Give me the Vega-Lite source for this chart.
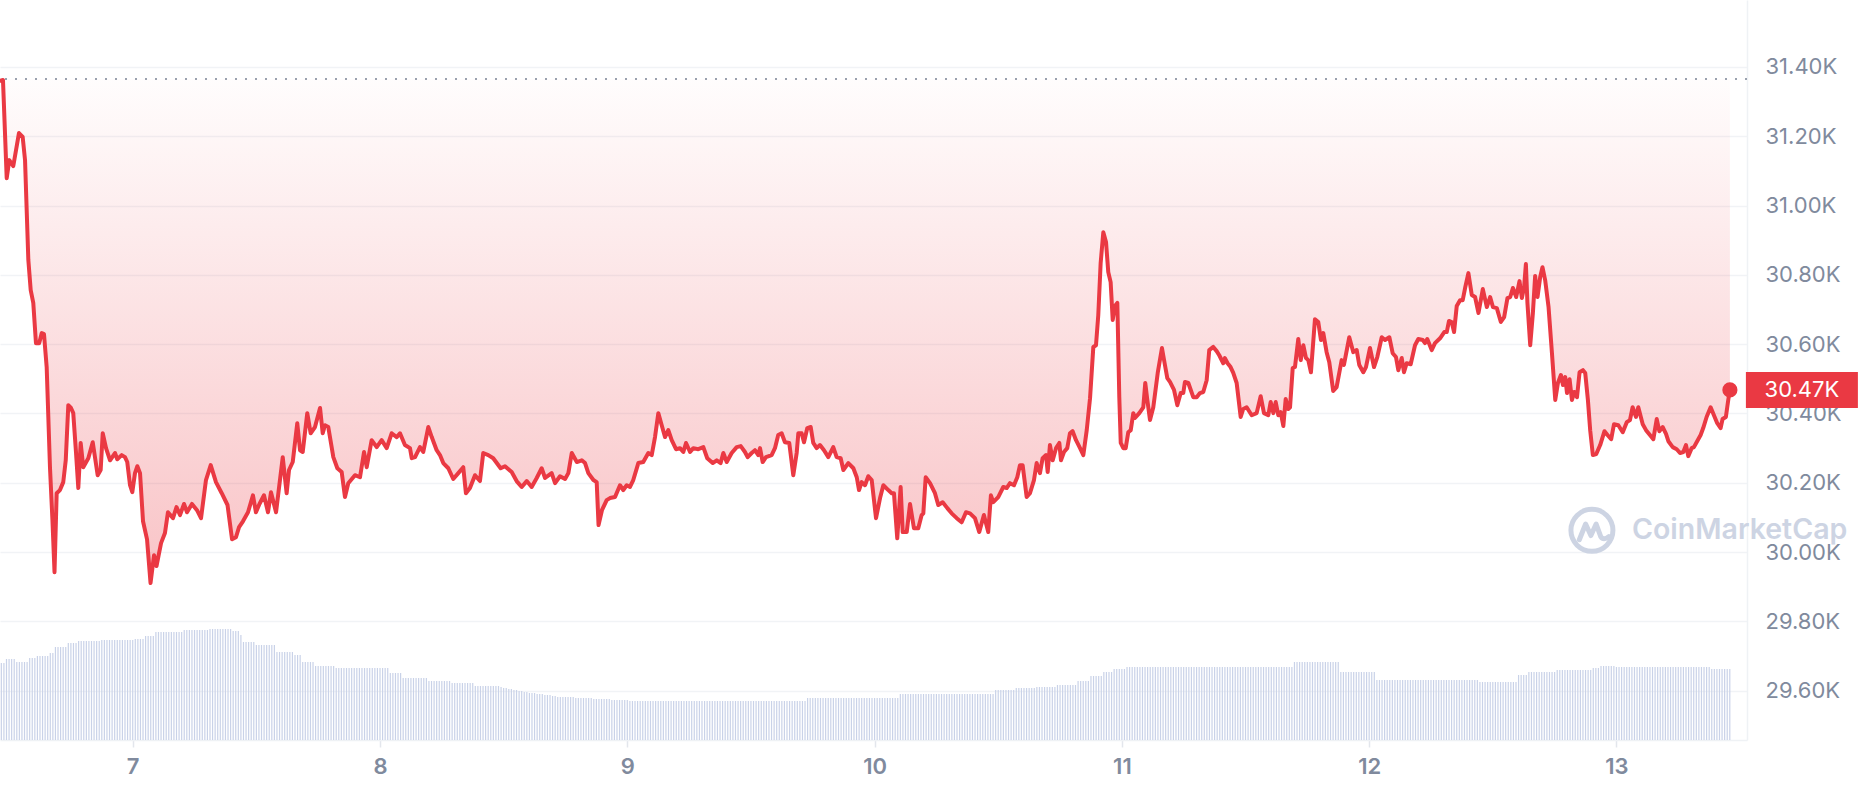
{
"$schema": "https://vega.github.io/schema/vega-lite/v6.json",
"width": 1747,
"height": 740,
"autosize": {"type": "none"},
"padding": {"left": 0, "top": 0, "right": 111, "bottom": 52},
"background": "#ffffff",
"config": {"view": {"stroke": null}, "font": "Inter"},
"datasets": {
"last": [{"t": 179.01, "p": 30468, "label": "30.47K"}],
"price": [
{"t":11.12,"p":31360},{"t":11.41,"p":31362},{"t":11.77,"p":31079},{"t":12.02,"p":31131},{"t":12.41,"p":31114},{"t":12.96,"p":31209},{"t":13.32,"p":31198},{"t":13.55,"p":31131},{"t":13.87,"p":30843},{"t":14.1,"p":30756},{"t":14.35,"p":30719},{"t":14.61,"p":30603},{"t":14.93,"p":30603},{"t":15.17,"p":30632},{"t":15.39,"p":30629},{"t":15.65,"p":30534},{"t":15.97,"p":30245},{"t":16.21,"p":30092},{"t":16.41,"p":29942},{"t":16.62,"p":30170},{"t":16.94,"p":30179},{"t":17.26,"p":30202},{"t":17.5,"p":30265},{"t":17.75,"p":30424},{"t":18.01,"p":30416},{"t":18.23,"p":30401},{"t":18.5,"p":30286},{"t":18.72,"p":30185},{"t":18.95,"p":30315},{"t":19.2,"p":30245},{"t":19.69,"p":30271},{"t":20.12,"p":30317},{"t":20.6,"p":30222},{"t":20.89,"p":30237},{"t":21.09,"p":30343},{"t":21.41,"p":30300},{"t":21.8,"p":30265},{"t":22.28,"p":30286},{"t":22.5,"p":30268},{"t":22.93,"p":30280},{"t":23.25,"p":30274},{"t":23.47,"p":30260},{"t":23.74,"p":30193},{"t":23.96,"p":30173},{"t":24.22,"p":30228},{"t":24.45,"p":30248},{"t":24.71,"p":30228},{"t":25.0,"p":30089},{"t":25.39,"p":30037},{"t":25.73,"p":29911},{"t":26.07,"p":29991},{"t":26.31,"p":29960},{"t":26.75,"p":30026},{"t":27.13,"p":30055},{"t":27.42,"p":30115},{"t":27.91,"p":30098},{"t":28.25,"p":30130},{"t":28.59,"p":30107},{"t":28.98,"p":30139},{"t":29.27,"p":30115},{"t":29.75,"p":30139},{"t":30.24,"p":30121},{"t":30.63,"p":30098},{"t":31.11,"p":30208},{"t":31.57,"p":30251},{"t":32.08,"p":30202},{"t":32.64,"p":30170},{"t":33.2,"p":30136},{"t":33.64,"p":30037},{"t":34.02,"p":30043},{"t":34.32,"p":30072},{"t":34.7,"p":30089},{"t":35.19,"p":30115},{"t":35.67,"p":30164},{"t":35.96,"p":30115},{"t":36.3,"p":30139},{"t":36.74,"p":30164},{"t":37.13,"p":30115},{"t":37.42,"p":30173},{"t":37.91,"p":30115},{"t":38.56,"p":30274},{"t":38.94,"p":30170},{"t":39.17,"p":30237},{"t":39.53,"p":30260},{"t":39.97,"p":30372},{"t":40.24,"p":30294},{"t":40.5,"p":30289},{"t":40.94,"p":30401},{"t":41.27,"p":30343},{"t":41.69,"p":30361},{"t":42.18,"p":30416},{"t":42.44,"p":30343},{"t":42.66,"p":30366},{"t":42.98,"p":30361},{"t":43.47,"p":30274},{"t":43.86,"p":30242},{"t":44.28,"p":30231},{"t":44.6,"p":30159},{"t":44.92,"p":30199},{"t":45.57,"p":30222},{"t":46.06,"p":30216},{"t":46.45,"p":30289},{"t":46.71,"p":30245},{"t":47.19,"p":30323},{"t":47.68,"p":30303},{"t":48.16,"p":30323},{"t":48.65,"p":30300},{"t":49.13,"p":30343},{"t":49.62,"p":30332},{"t":49.94,"p":30343},{"t":50.42,"p":30309},{"t":50.91,"p":30300},{"t":51.08,"p":30271},{"t":51.4,"p":30274},{"t":51.88,"p":30303},{"t":52.2,"p":30289},{"t":52.69,"p":30361},{"t":53.02,"p":30332},{"t":53.5,"p":30294},{"t":53.82,"p":30280},
{"t":54.14,"p":30257},{"t":54.63,"p":30242},{"t":55.11,"p":30211},{"t":55.6,"p":30228},{"t":56.08,"p":30245},{"t":56.34,"p":30170},{"t":56.73,"p":30185},{"t":57.22,"p":30222},{"t":57.7,"p":30205},{"t":58.02,"p":30286},{"t":58.51,"p":30280},{"t":58.99,"p":30271},{"t":59.71,"p":30242},{"t":60.13,"p":30248},{"t":60.78,"p":30231},{"t":61.26,"p":30205},{"t":61.75,"p":30188},{"t":62.24,"p":30205},{"t":62.72,"p":30188},{"t":63.21,"p":30214},{"t":63.69,"p":30242},{"t":64.02,"p":30214},{"t":64.66,"p":30228},{"t":64.99,"p":30199},{"t":65.47,"p":30219},{"t":65.96,"p":30211},{"t":66.28,"p":30228},{"t":66.61,"p":30286},{"t":67.1,"p":30260},{"t":67.58,"p":30265},{"t":67.9,"p":30257},{"t":68.22,"p":30228},{"t":68.71,"p":30208},{"t":69.03,"p":30202},{"t":69.21,"p":30078},{"t":69.54,"p":30121},{"t":70.0,"p":30150},{"t":70.32,"p":30156},{"t":70.81,"p":30159},{"t":71.29,"p":30193},{"t":71.61,"p":30179},{"t":71.94,"p":30193},{"t":72.26,"p":30188},{"t":72.58,"p":30208},{"t":73.07,"p":30257},{"t":73.55,"p":30260},{"t":74.04,"p":30286},{"t":74.37,"p":30280},{"t":74.69,"p":30332},{"t":75.01,"p":30401},{"t":75.34,"p":30366},{"t":75.66,"p":30332},{"t":75.98,"p":30352},{"t":76.31,"p":30323},{"t":76.73,"p":30297},{"t":77.12,"p":30300},{"t":77.44,"p":30289},{"t":77.7,"p":30315},{"t":78.09,"p":30289},{"t":78.41,"p":30300},{"t":78.89,"p":30297},{"t":79.38,"p":30303},{"t":79.76,"p":30271},{"t":80.29,"p":30257},{"t":80.68,"p":30265},{"t":81.06,"p":30257},{"t":81.32,"p":30286},{"t":81.65,"p":30260},{"t":82.13,"p":30286},{"t":82.62,"p":30303},{"t":83.01,"p":30306},{"t":83.42,"p":30289},{"t":83.68,"p":30274},{"t":84.07,"p":30286},{"t":84.39,"p":30294},{"t":84.71,"p":30280},{"t":84.88,"p":30300},{"t":85.14,"p":30260},{"t":85.46,"p":30274},{"t":86.01,"p":30280},{"t":86.33,"p":30300},{"t":86.65,"p":30338},{"t":86.98,"p":30343},{"t":87.3,"p":30317},{"t":87.72,"p":30315},{"t":88.11,"p":30222},{"t":88.44,"p":30286},{"t":88.6,"p":30343},{"t":88.92,"p":30343},{"t":89.15,"p":30317},{"t":89.47,"p":30358},{"t":89.8,"p":30361},{"t":90.05,"p":30315},{"t":90.38,"p":30300},{"t":90.7,"p":30309},{"t":91.09,"p":30294},{"t":91.51,"p":30274},{"t":91.99,"p":30303},{"t":92.32,"p":30274},{"t":92.71,"p":30271},{"t":92.97,"p":30237},{"t":93.45,"p":30257},{"t":93.94,"p":30242},{"t":94.27,"p":30216},{"t":94.49,"p":30179},{"t":94.75,"p":30202},{"t":95.07,"p":30193},{"t":95.39,"p":30219},
{"t":95.72,"p":30208},{"t":96.14,"p":30098},{"t":96.53,"p":30156},{"t":96.85,"p":30193},{"t":97.33,"p":30179},{"t":97.66,"p":30170},{"t":97.88,"p":30170},{"t":98.2,"p":30040},{"t":98.53,"p":30188},{"t":98.73,"p":30058},{"t":99.12,"p":30058},{"t":99.44,"p":30139},{"t":99.82,"p":30069},{"t":100.24,"p":30069},{"t":100.57,"p":30107},{"t":100.73,"p":30112},{"t":100.96,"p":30216},{"t":101.38,"p":30199},{"t":101.86,"p":30170},{"t":102.18,"p":30136},{"t":102.61,"p":30144},{"t":103.06,"p":30127},{"t":103.48,"p":30112},{"t":103.97,"p":30098},{"t":104.45,"p":30086},{"t":104.87,"p":30115},{"t":105.26,"p":30112},{"t":105.74,"p":30098},{"t":106.16,"p":30058},{"t":106.61,"p":30107},{"t":107.03,"p":30058},{"t":107.29,"p":30164},{"t":107.52,"p":30144},{"t":108.0,"p":30159},{"t":108.49,"p":30188},{"t":108.82,"p":30185},{"t":109.14,"p":30199},{"t":109.53,"p":30193},{"t":109.85,"p":30216},{"t":110.11,"p":30251},{"t":110.37,"p":30251},{"t":110.76,"p":30159},{"t":111.08,"p":30170},{"t":111.47,"p":30208},{"t":111.73,"p":30257},{"t":112.05,"p":30228},{"t":112.31,"p":30271},{"t":112.64,"p":30280},{"t":112.8,"p":30231},{"t":113.02,"p":30309},{"t":113.29,"p":30265},{"t":113.61,"p":30300},{"t":113.93,"p":30315},{"t":114.09,"p":30265},{"t":114.38,"p":30289},{"t":114.7,"p":30300},{"t":114.96,"p":30343},{"t":115.22,"p":30349},{"t":115.55,"p":30323},{"t":115.94,"p":30300},{"t":116.26,"p":30280},{"t":116.59,"p":30352},{"t":116.91,"p":30444},{"t":117.23,"p":30592},{"t":117.49,"p":30597},{"t":117.71,"p":30684},{"t":117.94,"p":30834},{"t":118.2,"p":30923},{"t":118.46,"p":30895},{"t":118.68,"p":30808},{"t":118.91,"p":30779},{"t":119.11,"p":30670},{"t":119.33,"p":30710},{"t":119.56,"p":30719},{"t":119.75,"p":30447},{"t":119.89,"p":30315},{"t":120.14,"p":30300},{"t":120.37,"p":30300},{"t":120.62,"p":30346},{"t":120.86,"p":30352},{"t":121.11,"p":30401},{"t":121.27,"p":30387},{"t":121.69,"p":30401},{"t":122.08,"p":30418},{"t":122.27,"p":30488},{"t":122.47,"p":30439},{"t":122.73,"p":30381},{"t":123.05,"p":30418},{"t":123.48,"p":30517},{"t":123.89,"p":30589},{"t":124.18,"p":30540},{"t":124.41,"p":30502},{"t":124.67,"p":30491},{"t":125.06,"p":30468},{"t":125.38,"p":30424},{"t":125.71,"p":30459},{"t":125.96,"p":30459},{"t":126.12,"p":30491},{"t":126.45,"p":30488},{"t":126.93,"p":30447},{"t":127.26,"p":30447},{"t":127.58,"p":30459},{"t":127.9,"p":30462},{"t":128.23,"p":30496},{"t":128.48,"p":30583},{"t":128.87,"p":30592},{"t":129.2,"p":30580},{"t":129.45,"p":30568},{"t":129.84,"p":30545},{"t":130.0,"p":30560},{"t":130.26,"p":30545},{"t":130.55,"p":30534},{"t":130.81,"p":30517},{"t":131.14,"p":30488},{"t":131.53,"p":30390},{"t":131.78,"p":30413},{"t":132.11,"p":30418},{"t":132.6,"p":30395},{"t":133.08,"p":30401},{"t":133.47,"p":30450},{"t":133.79,"p":30401},{"t":134.21,"p":30395},{"t":134.44,"p":30433},{"t":134.7,"p":30401},{"t":134.93,"p":30433},{"t":135.18,"p":30395},{"t":135.41,"p":30404},{"t":135.67,"p":30364},{"t":135.9,"p":30442},{"t":136.15,"p":30413},{"t":136.32,"p":30418},
{"t":136.58,"p":30531},{"t":136.8,"p":30534},{"t":137.12,"p":30615},{"t":137.36,"p":30554},{"t":137.61,"p":30597},{"t":137.87,"p":30560},{"t":138.09,"p":30554},{"t":138.35,"p":30519},{"t":138.74,"p":30672},{"t":139.06,"p":30664},{"t":139.32,"p":30612},{"t":139.55,"p":30632},{"t":139.87,"p":30577},{"t":140.13,"p":30548},{"t":140.51,"p":30465},{"t":140.84,"p":30476},{"t":141.33,"p":30554},{"t":141.55,"p":30540},{"t":142.07,"p":30620},{"t":142.46,"p":30577},{"t":142.79,"p":30583},{"t":143.04,"p":30540},{"t":143.43,"p":30519},{"t":143.69,"p":30534},{"t":144.08,"p":30589},{"t":144.47,"p":30534},{"t":144.79,"p":30563},{"t":145.22,"p":30620},{"t":145.54,"p":30612},{"t":145.96,"p":30620},{"t":146.28,"p":30574},{"t":146.6,"p":30563},{"t":146.83,"p":30525},{"t":147.16,"p":30560},{"t":147.38,"p":30519},{"t":147.64,"p":30545},{"t":148.03,"p":30542},{"t":148.45,"p":30597},{"t":148.77,"p":30615},{"t":149.2,"p":30612},{"t":149.42,"p":30603},{"t":149.64,"p":30615},{"t":150.07,"p":30583},{"t":150.39,"p":30603},{"t":150.88,"p":30617},{"t":151.29,"p":30635},{"t":151.53,"p":30635},{"t":151.75,"p":30667},{"t":152.01,"p":30664},{"t":152.24,"p":30635},{"t":152.5,"p":30710},{"t":152.82,"p":30727},{"t":153.08,"p":30727},{"t":153.31,"p":30762},{"t":153.63,"p":30805},{"t":153.96,"p":30742},{"t":154.28,"p":30736},{"t":154.61,"p":30690},{"t":155.03,"p":30759},{"t":155.42,"p":30707},{"t":155.74,"p":30736},{"t":156.01,"p":30707},{"t":156.39,"p":30704},{"t":156.78,"p":30664},{"t":157.1,"p":30678},{"t":157.42,"p":30733},{"t":157.69,"p":30736},{"t":157.95,"p":30762},{"t":158.27,"p":30736},{"t":158.59,"p":30782},{"t":158.82,"p":30733},{"t":159.04,"p":30765},{"t":159.21,"p":30831},{"t":159.36,"p":30719},{"t":159.63,"p":30597},{"t":159.89,"p":30690},{"t":160.11,"p":30797},{"t":160.34,"p":30736},{"t":160.6,"p":30794},{"t":160.82,"p":30822},{"t":161.08,"p":30785},{"t":161.41,"p":30707},{"t":161.74,"p":30574},{"t":162.06,"p":30439},{"t":162.32,"p":30488},{"t":162.61,"p":30511},{"t":162.81,"p":30482},{"t":163.03,"p":30505},{"t":163.2,"p":30459},{"t":163.45,"p":30499},{"t":163.68,"p":30439},{"t":163.91,"p":30462},{"t":164.17,"p":30447},{"t":164.42,"p":30519},{"t":164.75,"p":30525},{"t":164.97,"p":30517},{"t":165.23,"p":30439},{"t":165.45,"p":30352},{"t":165.71,"p":30280},{"t":166.04,"p":30283},{"t":166.42,"p":30309},{"t":166.84,"p":30349},{"t":167.13,"p":30338},{"t":167.49,"p":30326},{"t":167.76,"p":30369},{"t":168.18,"p":30366},{"t":168.61,"p":30346},{"t":169.0,"p":30375},{"t":169.31,"p":30381},{"t":169.57,"p":30418},{"t":169.89,"p":30390},{"t":170.12,"p":30418},{"t":170.55,"p":30369},{"t":170.87,"p":30352},{"t":171.25,"p":30338},{"t":171.58,"p":30326},{"t":171.91,"p":30384},{"t":172.16,"p":30349},{"t":172.49,"p":30361},{"t":172.81,"p":30341},{"t":173.04,"p":30320},{"t":173.46,"p":30303},{"t":173.85,"p":30297},{"t":174.17,"p":30286},{"t":174.49,"p":30289},{"t":174.75,"p":30309},{"t":174.97,"p":30277},{"t":175.3,"p":30300},{"t":175.52,"p":30303},{"t":175.78,"p":30317},{"t":176.17,"p":30338},{"t":176.42,"p":30358},{"t":176.75,"p":30390},{"t":177.14,"p":30418},{"t":177.46,"p":30395},{"t":177.78,"p":30372},{"t":178.11,"p":30358},{"t":178.3,"p":30384},{"t":178.62,"p":30390},{"t":178.85,"p":30439},{"t":179.01,"p":30468}
],
"volume": [
{"t":11.25,"v":7.7},{"t":11.5,"v":7.7},{"t":11.75,"v":8.1},{"t":12,"v":8.1},{"t":12.25,"v":8.1},{"t":12.5,"v":8.1},{"t":12.75,"v":7.8},{"t":13,"v":7.8},{"t":13.25,"v":7.8},{"t":13.5,"v":7.8},{"t":13.75,"v":7.8},{"t":14,"v":8.2},{"t":14.25,"v":8.2},{"t":14.5,"v":8.2},{"t":14.75,"v":8.4},{"t":15,"v":8.4},{"t":15.25,"v":8.4},{"t":15.5,"v":8.4},{"t":15.75,"v":8.4},{"t":16,"v":8.7},{"t":16.25,"v":8.7},{"t":16.5,"v":9.3},{"t":16.75,"v":9.3},{"t":17,"v":9.3},{"t":17.25,"v":9.3},{"t":17.5,"v":9.3},{"t":17.75,"v":9.7},{"t":18,"v":9.7},{"t":18.25,"v":9.7},{"t":18.5,"v":9.7},
{"t":18.75,"v":9.9},{"t":19,"v":9.9},{"t":19.25,"v":9.9},{"t":19.5,"v":9.9},{"t":19.75,"v":9.9},{"t":20,"v":9.9},{"t":20.25,"v":9.9},{"t":20.5,"v":9.9},{"t":20.75,"v":9.9},
{"t":21,"v":10},{"t":21.25,"v":10},{"t":21.5,"v":10},{"t":21.75,"v":10},{"t":22,"v":10},{"t":22.25,"v":10},{"t":22.5,"v":10},{"t":22.75,"v":10},{"t":23,"v":10},{"t":23.25,"v":10},{"t":23.5,"v":10},{"t":23.75,"v":10},{"t":24,"v":10},
{"t":24.25,"v":10.1},{"t":24.5,"v":10.1},{"t":24.75,"v":10.1},{"t":25,"v":10.1},{"t":25.25,"v":10.4},{"t":25.5,"v":10.4},{"t":25.75,"v":10.4},{"t":26,"v":10.4},
{"t":26.25,"v":10.8},{"t":26.5,"v":10.8},{"t":26.75,"v":10.8},{"t":27,"v":10.8},{"t":27.25,"v":10.8},{"t":27.5,"v":10.8},{"t":27.75,"v":10.8},{"t":28,"v":10.8},{"t":28.25,"v":10.8},{"t":28.5,"v":10.8},{"t":28.75,"v":10.8},
{"t":29,"v":11},{"t":29.25,"v":11},{"t":29.5,"v":11},{"t":29.75,"v":11},{"t":30,"v":11},{"t":30.25,"v":11},{"t":30.5,"v":11},{"t":30.75,"v":11},{"t":31,"v":11},{"t":31.25,"v":11},
{"t":31.5,"v":11.1},{"t":31.75,"v":11.1},{"t":32,"v":11.1},{"t":32.25,"v":11.1},{"t":32.5,"v":11.1},{"t":32.75,"v":11.1},{"t":33,"v":11.1},{"t":33.25,"v":11.1},{"t":33.5,"v":11.1},
{"t":33.75,"v":10.9},{"t":34,"v":10.9},{"t":34.25,"v":10.9},{"t":34.5,"v":10.5},
{"t":34.75,"v":9.8},{"t":35,"v":9.8},{"t":35.25,"v":9.8},{"t":35.5,"v":9.8},{"t":35.75,"v":9.8},
{"t":36,"v":9.5},{"t":36.25,"v":9.5},{"t":36.5,"v":9.5},{"t":36.75,"v":9.5},{"t":37,"v":9.5},{"t":37.25,"v":9.5},{"t":37.5,"v":9.5},{"t":37.75,"v":9.5},
{"t":38,"v":8.8},{"t":38.25,"v":8.8},{"t":38.5,"v":8.8},{"t":38.75,"v":8.8},{"t":39,"v":8.8},{"t":39.25,"v":8.8},{"t":39.5,"v":8.8},
{"t":39.75,"v":8.5},{"t":40,"v":8.5},{"t":40.25,"v":8.5},
{"t":40.5,"v":7.8},{"t":40.75,"v":7.8},{"t":41,"v":7.8},{"t":41.25,"v":7.8},{"t":41.5,"v":7.8},
{"t":41.75,"v":7.4},{"t":42,"v":7.4},{"t":42.25,"v":7.4},{"t":42.5,"v":7.4},{"t":42.75,"v":7.4},{"t":43,"v":7.4},{"t":43.25,"v":7.4},{"t":43.5,"v":7.4},
{"t":43.75,"v":7.2},{"t":44,"v":7.2},{"t":44.25,"v":7.2},{"t":44.5,"v":7.2},{"t":44.75,"v":7.2},{"t":45,"v":7.2},{"t":45.25,"v":7.2},{"t":45.5,"v":7.2},{"t":45.75,"v":7.2},{"t":46,"v":7.2},{"t":46.25,"v":7.2},{"t":46.5,"v":7.2},{"t":46.75,"v":7.2},{"t":47,"v":7.2},{"t":47.25,"v":7.2},{"t":47.5,"v":7.2},{"t":47.75,"v":7.2},{"t":48,"v":7.2},{"t":48.25,"v":7.2},{"t":48.5,"v":7.2},{"t":48.75,"v":7.2},
{"t":49,"v":6.7},{"t":49.25,"v":6.7},{"t":49.5,"v":6.7},{"t":49.75,"v":6.7},{"t":50,"v":6.7},
{"t":50.25,"v":6.2},{"t":50.5,"v":6.2},{"t":50.75,"v":6.2},{"t":51,"v":6.2},{"t":51.25,"v":6.2},{"t":51.5,"v":6.2},{"t":51.75,"v":6.2},{"t":52,"v":6.2},{"t":52.25,"v":6.2},{"t":52.5,"v":6.2},
{"t":52.75,"v":5.9},{"t":53,"v":5.9},{"t":53.25,"v":5.9},{"t":53.5,"v":5.9},{"t":53.75,"v":5.9},{"t":54,"v":5.9},{"t":54.25,"v":5.9},{"t":54.5,"v":5.9},{"t":54.75,"v":5.9},
{"t":55,"v":5.7},{"t":55.25,"v":5.7},{"t":55.5,"v":5.7},{"t":55.75,"v":5.7},{"t":56,"v":5.7},{"t":56.25,"v":5.7},{"t":56.5,"v":5.7},{"t":56.75,"v":5.7},{"t":57,"v":5.7},
{"t":57.25,"v":5.4},{"t":57.5,"v":5.4},{"t":57.75,"v":5.4},{"t":58,"v":5.4},{"t":58.25,"v":5.4},{"t":58.5,"v":5.4},{"t":58.75,"v":5.4},{"t":59,"v":5.4},{"t":59.25,"v":5.4},{"t":59.5,"v":5.4},
{"t":59.75,"v":5.3},{"t":60,"v":5.2},{"t":60.25,"v":5.2},{"t":60.5,"v":5.1},{"t":60.75,"v":5.1},{"t":61,"v":5.0},{"t":61.25,"v":5.0},{"t":61.5,"v":4.9},{"t":61.75,"v":4.9},{"t":62,"v":4.8},{"t":62.25,"v":4.8},{"t":62.5,"v":4.7},{"t":62.75,"v":4.7},{"t":63,"v":4.7},{"t":63.25,"v":4.6},{"t":63.5,"v":4.6},{"t":63.75,"v":4.6},{"t":64,"v":4.5},{"t":64.25,"v":4.5},{"t":64.5,"v":4.5},{"t":64.75,"v":4.4},{"t":65,"v":4.4},
{"t":65.25,"v":4.3},{"t":65.5,"v":4.3},{"t":65.75,"v":4.3},{"t":66,"v":4.3},{"t":66.25,"v":4.3},{"t":66.5,"v":4.3},{"t":66.75,"v":4.3},
{"t":67,"v":4.2},{"t":67.25,"v":4.2},{"t":67.5,"v":4.2},{"t":67.75,"v":4.2},{"t":68,"v":4.2},{"t":68.25,"v":4.2},{"t":68.5,"v":4.2},
{"t":68.75,"v":4.1},{"t":69,"v":4.1},{"t":69.25,"v":4.1},{"t":69.5,"v":4.1},{"t":69.75,"v":4.1},{"t":70,"v":4.1},{"t":70.25,"v":4.1},
{"t":70.5,"v":4.0},{"t":70.75,"v":4.0},{"t":71,"v":4.0},{"t":71.25,"v":4.0},{"t":71.5,"v":4.0},{"t":71.75,"v":4.0},{"t":72,"v":4.0},
{"t":72.25,"v":3.9},{"t":72.5,"v":3.9},{"t":72.75,"v":3.9},{"t":73,"v":3.9},{"t":73.25,"v":3.9},{"t":73.5,"v":3.9},{"t":73.75,"v":3.9},{"t":74,"v":3.9},{"t":74.25,"v":3.9},{"t":74.5,"v":3.9},{"t":74.75,"v":3.9},{"t":75,"v":3.9},{"t":75.25,"v":3.9},{"t":75.5,"v":3.9},{"t":75.75,"v":3.9},{"t":76,"v":3.9},{"t":76.25,"v":3.9},{"t":76.5,"v":3.9},{"t":76.75,"v":3.9},{"t":77,"v":3.9},{"t":77.25,"v":3.9},{"t":77.5,"v":3.9},{"t":77.75,"v":3.9},{"t":78,"v":3.9},{"t":78.25,"v":3.9},{"t":78.5,"v":3.9},{"t":78.75,"v":3.9},{"t":79,"v":3.9},{"t":79.25,"v":3.9},{"t":79.5,"v":3.9},{"t":79.75,"v":3.9},{"t":80,"v":3.9},{"t":80.25,"v":3.9},{"t":80.5,"v":3.9},{"t":80.75,"v":3.9},{"t":81,"v":3.9},{"t":81.25,"v":3.9},{"t":81.5,"v":3.9},{"t":81.75,"v":3.9},{"t":82,"v":3.9},{"t":82.25,"v":3.9},{"t":82.5,"v":3.9},{"t":82.75,"v":3.9},{"t":83,"v":3.9},{"t":83.25,"v":3.9},{"t":83.5,"v":3.9},{"t":83.75,"v":3.9},{"t":84,"v":3.9},{"t":84.25,"v":3.9},{"t":84.5,"v":3.9},{"t":84.75,"v":3.9},{"t":85,"v":3.9},{"t":85.25,"v":3.9},{"t":85.5,"v":3.9},{"t":85.75,"v":3.9},{"t":86,"v":3.9},{"t":86.25,"v":3.9},{"t":86.5,"v":3.9},{"t":86.75,"v":3.9},{"t":87,"v":3.9},{"t":87.25,"v":3.9},{"t":87.5,"v":3.9},{"t":87.75,"v":3.9},{"t":88,"v":3.9},{"t":88.25,"v":3.9},{"t":88.5,"v":3.9},{"t":88.75,"v":3.9},{"t":89,"v":3.9},{"t":89.25,"v":3.9},
{"t":89.5,"v":4.2},{"t":89.75,"v":4.2},{"t":90,"v":4.2},{"t":90.25,"v":4.2},{"t":90.5,"v":4.2},{"t":90.75,"v":4.2},{"t":91,"v":4.2},{"t":91.25,"v":4.2},{"t":91.5,"v":4.2},{"t":91.75,"v":4.2},{"t":92,"v":4.2},{"t":92.25,"v":4.2},{"t":92.5,"v":4.2},{"t":92.75,"v":4.2},{"t":93,"v":4.2},{"t":93.25,"v":4.2},{"t":93.5,"v":4.2},{"t":93.75,"v":4.2},{"t":94,"v":4.2},{"t":94.25,"v":4.2},{"t":94.5,"v":4.2},{"t":94.75,"v":4.2},{"t":95,"v":4.2},{"t":95.25,"v":4.2},{"t":95.5,"v":4.2},{"t":95.75,"v":4.2},{"t":96,"v":4.2},{"t":96.25,"v":4.2},{"t":96.5,"v":4.2},{"t":96.75,"v":4.2},{"t":97,"v":4.2},{"t":97.25,"v":4.2},{"t":97.5,"v":4.2},{"t":97.75,"v":4.2},{"t":98,"v":4.2},{"t":98.25,"v":4.2},
{"t":98.5,"v":4.6},{"t":98.75,"v":4.6},{"t":99,"v":4.6},{"t":99.25,"v":4.6},{"t":99.5,"v":4.6},{"t":99.75,"v":4.6},{"t":100,"v":4.6},{"t":100.25,"v":4.6},{"t":100.5,"v":4.6},{"t":100.75,"v":4.6},{"t":101,"v":4.6},{"t":101.25,"v":4.6},{"t":101.5,"v":4.6},{"t":101.75,"v":4.6},{"t":102,"v":4.6},{"t":102.25,"v":4.6},{"t":102.5,"v":4.6},{"t":102.75,"v":4.6},{"t":103,"v":4.6},{"t":103.25,"v":4.6},{"t":103.5,"v":4.6},{"t":103.75,"v":4.6},{"t":104,"v":4.6},{"t":104.25,"v":4.6},{"t":104.5,"v":4.6},{"t":104.75,"v":4.6},{"t":105,"v":4.6},{"t":105.25,"v":4.6},{"t":105.5,"v":4.6},{"t":105.75,"v":4.6},{"t":106,"v":4.6},{"t":106.25,"v":4.6},{"t":106.5,"v":4.6},{"t":106.75,"v":4.6},{"t":107,"v":4.6},{"t":107.25,"v":4.6},{"t":107.5,"v":4.6},
{"t":107.75,"v":5.0},{"t":108,"v":5.0},{"t":108.25,"v":5.0},{"t":108.5,"v":5.0},{"t":108.75,"v":5.0},{"t":109,"v":5.0},{"t":109.25,"v":5.0},{"t":109.5,"v":5.0},
{"t":109.75,"v":5.2},{"t":110,"v":5.2},{"t":110.25,"v":5.2},{"t":110.5,"v":5.2},{"t":110.75,"v":5.2},{"t":111,"v":5.2},{"t":111.25,"v":5.2},{"t":111.5,"v":5.2},
{"t":111.75,"v":5.3},{"t":112,"v":5.3},{"t":112.25,"v":5.3},{"t":112.5,"v":5.3},{"t":112.75,"v":5.3},{"t":113,"v":5.3},{"t":113.25,"v":5.3},{"t":113.5,"v":5.3},
{"t":113.75,"v":5.5},{"t":114,"v":5.5},{"t":114.25,"v":5.5},{"t":114.5,"v":5.5},{"t":114.75,"v":5.5},{"t":115,"v":5.5},{"t":115.25,"v":5.5},{"t":115.5,"v":5.5},
{"t":115.75,"v":5.9},{"t":116,"v":5.9},{"t":116.25,"v":5.9},{"t":116.5,"v":5.9},{"t":116.75,"v":5.9},
{"t":117,"v":6.4},{"t":117.25,"v":6.4},{"t":117.5,"v":6.4},{"t":117.75,"v":6.4},{"t":118,"v":6.4},
{"t":118.25,"v":6.8},{"t":118.5,"v":6.8},{"t":118.75,"v":6.8},{"t":119,"v":6.8},
{"t":119.25,"v":7.1},{"t":119.5,"v":7.1},{"t":119.75,"v":7.1},{"t":120,"v":7.1},{"t":120.25,"v":7.1},
{"t":120.5,"v":7.3},{"t":120.75,"v":7.3},{"t":121,"v":7.3},{"t":121.25,"v":7.3},{"t":121.5,"v":7.3},{"t":121.75,"v":7.3},{"t":122,"v":7.3},{"t":122.25,"v":7.3},{"t":122.5,"v":7.3},{"t":122.75,"v":7.3},{"t":123,"v":7.3},{"t":123.25,"v":7.3},{"t":123.5,"v":7.3},{"t":123.75,"v":7.3},{"t":124,"v":7.3},{"t":124.25,"v":7.3},{"t":124.5,"v":7.3},{"t":124.75,"v":7.3},{"t":125,"v":7.3},{"t":125.25,"v":7.3},{"t":125.5,"v":7.3},{"t":125.75,"v":7.3},{"t":126,"v":7.3},{"t":126.25,"v":7.3},{"t":126.5,"v":7.3},{"t":126.75,"v":7.3},{"t":127,"v":7.3},{"t":127.25,"v":7.3},{"t":127.5,"v":7.3},{"t":127.75,"v":7.3},{"t":128,"v":7.3},{"t":128.25,"v":7.3},{"t":128.5,"v":7.3},{"t":128.75,"v":7.3},{"t":129,"v":7.3},{"t":129.25,"v":7.3},{"t":129.5,"v":7.3},{"t":129.75,"v":7.3},{"t":130,"v":7.3},{"t":130.25,"v":7.3},{"t":130.5,"v":7.3},{"t":130.75,"v":7.3},{"t":131,"v":7.3},{"t":131.25,"v":7.3},{"t":131.5,"v":7.3},{"t":131.75,"v":7.3},{"t":132,"v":7.3},{"t":132.25,"v":7.3},{"t":132.5,"v":7.3},{"t":132.75,"v":7.3},{"t":133,"v":7.3},{"t":133.25,"v":7.3},{"t":133.5,"v":7.3},{"t":133.75,"v":7.3},{"t":134,"v":7.3},{"t":134.25,"v":7.3},{"t":134.5,"v":7.3},{"t":134.75,"v":7.3},{"t":135,"v":7.3},{"t":135.25,"v":7.3},{"t":135.5,"v":7.3},{"t":135.75,"v":7.3},{"t":136,"v":7.3},{"t":136.25,"v":7.3},{"t":136.5,"v":7.3},
{"t":136.75,"v":7.8},{"t":137,"v":7.8},{"t":137.25,"v":7.8},{"t":137.5,"v":7.8},{"t":137.75,"v":7.8},{"t":138,"v":7.8},{"t":138.25,"v":7.8},{"t":138.5,"v":7.8},{"t":138.75,"v":7.8},{"t":139,"v":7.8},{"t":139.25,"v":7.8},{"t":139.5,"v":7.8},{"t":139.75,"v":7.8},{"t":140,"v":7.8},{"t":140.25,"v":7.8},{"t":140.5,"v":7.8},{"t":140.75,"v":7.8},{"t":141,"v":7.8},
{"t":141.25,"v":6.8},{"t":141.5,"v":6.8},{"t":141.75,"v":6.8},{"t":142,"v":6.8},{"t":142.25,"v":6.8},{"t":142.5,"v":6.8},{"t":142.75,"v":6.8},{"t":143,"v":6.8},{"t":143.25,"v":6.8},{"t":143.5,"v":6.8},{"t":143.75,"v":6.8},{"t":144,"v":6.8},{"t":144.25,"v":6.8},{"t":144.5,"v":6.8},
{"t":144.75,"v":6.0},{"t":145,"v":6.0},{"t":145.25,"v":6.0},{"t":145.5,"v":6.0},{"t":145.75,"v":6.0},{"t":146,"v":6.0},{"t":146.25,"v":6.0},{"t":146.5,"v":6.0},{"t":146.75,"v":6.0},{"t":147,"v":6.0},{"t":147.25,"v":6.0},{"t":147.5,"v":6.0},{"t":147.75,"v":6.0},{"t":148,"v":6.0},{"t":148.25,"v":6.0},{"t":148.5,"v":6.0},{"t":148.75,"v":6.0},{"t":149,"v":6.0},{"t":149.25,"v":6.0},{"t":149.5,"v":6.0},{"t":149.75,"v":6.0},{"t":150,"v":6.0},{"t":150.25,"v":6.0},{"t":150.5,"v":6.0},{"t":150.75,"v":6.0},{"t":151,"v":6.0},{"t":151.25,"v":6.0},{"t":151.5,"v":6.0},{"t":151.75,"v":6.0},{"t":152,"v":6.0},{"t":152.25,"v":6.0},{"t":152.5,"v":6.0},{"t":152.75,"v":6.0},{"t":153,"v":6.0},{"t":153.25,"v":6.0},{"t":153.5,"v":6.0},{"t":153.75,"v":6.0},{"t":154,"v":6.0},{"t":154.25,"v":6.0},{"t":154.5,"v":6.0},
{"t":154.75,"v":5.8},{"t":155,"v":5.8},{"t":155.25,"v":5.8},{"t":155.5,"v":5.8},{"t":155.75,"v":5.8},{"t":156,"v":5.8},{"t":156.25,"v":5.8},{"t":156.5,"v":5.8},{"t":156.75,"v":5.8},{"t":157,"v":5.8},{"t":157.25,"v":5.8},{"t":157.5,"v":5.8},{"t":157.75,"v":5.8},{"t":158,"v":5.8},{"t":158.25,"v":5.8},
{"t":158.5,"v":6.5},{"t":158.75,"v":6.5},{"t":159,"v":6.5},{"t":159.25,"v":6.5},
{"t":159.5,"v":6.8},{"t":159.75,"v":6.8},{"t":160,"v":6.8},{"t":160.25,"v":6.8},{"t":160.5,"v":6.8},{"t":160.75,"v":6.8},{"t":161,"v":6.8},{"t":161.25,"v":6.8},{"t":161.5,"v":6.8},{"t":161.75,"v":6.8},{"t":162,"v":6.8},
{"t":162.25,"v":7.0},{"t":162.5,"v":7.0},{"t":162.75,"v":7.0},{"t":163,"v":7.0},{"t":163.25,"v":7.0},{"t":163.5,"v":7.0},{"t":163.75,"v":7.0},{"t":164,"v":7.0},{"t":164.25,"v":7.0},{"t":164.5,"v":7.0},{"t":164.75,"v":7.0},{"t":165,"v":7.0},{"t":165.25,"v":7.0},{"t":165.5,"v":7.0},
{"t":165.75,"v":7.2},{"t":166,"v":7.2},{"t":166.25,"v":7.2},
{"t":166.5,"v":7.4},{"t":166.75,"v":7.4},{"t":167,"v":7.4},{"t":167.25,"v":7.4},{"t":167.5,"v":7.4},{"t":167.75,"v":7.4},
{"t":168,"v":7.3},{"t":168.25,"v":7.3},{"t":168.5,"v":7.3},{"t":168.75,"v":7.3},{"t":169,"v":7.3},{"t":169.25,"v":7.3},{"t":169.5,"v":7.3},{"t":169.75,"v":7.3},{"t":170,"v":7.3},{"t":170.25,"v":7.3},{"t":170.5,"v":7.3},{"t":170.75,"v":7.3},{"t":171,"v":7.3},{"t":171.25,"v":7.3},{"t":171.5,"v":7.3},{"t":171.75,"v":7.3},{"t":172,"v":7.3},{"t":172.25,"v":7.3},{"t":172.5,"v":7.3},{"t":172.75,"v":7.3},{"t":173,"v":7.3},{"t":173.25,"v":7.3},{"t":173.5,"v":7.3},{"t":173.75,"v":7.3},{"t":174,"v":7.3},{"t":174.25,"v":7.3},{"t":174.5,"v":7.3},{"t":174.75,"v":7.3},{"t":175,"v":7.3},{"t":175.25,"v":7.3},{"t":175.5,"v":7.3},{"t":175.75,"v":7.3},{"t":176,"v":7.3},{"t":176.25,"v":7.3},{"t":176.5,"v":7.3},{"t":176.75,"v":7.3},{"t":177,"v":7.3},
{"t":177.25,"v":7.1},{"t":177.5,"v":7.1},{"t":177.75,"v":7.1},{"t":178,"v":7.1},{"t":178.25,"v":7.1},{"t":178.5,"v":7.1},{"t":178.75,"v":7.1},{"t":179,"v":7.1}
]
},
"layer": [
{
"data": {"name": "volume"},
"mark": {"type": "rule", "strokeWidth": 1.2, "color": "#c9d2e8"},
"encoding": {
"x": {"field": "t", "type": "quantitative", "scale": {"domain": [11.12, 180.67], "nice": false, "zero": false}, "axis": null},
"y": {"field": "v", "type": "quantitative", "scale": {"domain": [0, 74], "nice": false}, "axis": null},
"y2": {"datum": 0}
}
},
{
"data": {"name": "price"},
"mark": {"type": "area", "color": {"gradient": "linear", "x1": 0, "y1": 0, "x2": 0, "y2": 1, "stops": [{"offset": 0, "color": "rgba(234,57,67,0.01)"}, {"offset": 1, "color": "rgba(234,57,67,0.30)"}]}},
"encoding": {
"x": {"field": "t", "type": "quantitative", "scale": {"domain": [11.12, 180.67], "nice": false, "zero": false}, "axis": null},
"y": {"field": "p", "type": "quantitative", "scale": {"domain": [29458, 31593], "nice": false, "zero": false}, "axis": null},
"y2": {"datum": 31365}
}
},
{
"data": {"name": "last"},
"mark": {"type": "rule", "color": "#9aa1ae", "strokeDash": [2, 8], "strokeWidth": 2},
"encoding": {"y": {"datum": 31365, "type": "quantitative", "scale": {"domain": [29458, 31593], "nice": false, "zero": false}, "axis": null}}
},
{
"data": {"name": "price"},
"mark": {"type": "line", "color": "#ea3943", "strokeWidth": 4, "strokeJoin": "round", "strokeCap": "round"},
"encoding": {
"x": {"field": "t", "type": "quantitative", "scale": {"domain": [11.12, 180.67], "nice": false, "zero": false},
"axis": {"orient": "bottom", "values": [24, 48, 72, 96, 120, 144, 168], "labelExpr": "format(datum.value / 24 + 6, 'd')", "title": null, "grid": false, "domain": true, "domainColor": "#eff2f5", "domainWidth": 1.5, "ticks": true, "tickColor": "#e3e6ec", "tickSize": 7, "tickWidth": 1.5, "labels": true, "labelFontSize": 22, "labelFontWeight": 600, "labelColor": "#808a9d", "labelFont": "Inter", "labelPadding": 9}},
"y": {"field": "p", "type": "quantitative", "scale": {"domain": [29458, 31593], "nice": false, "zero": false},
"axis": {"orient": "right", "values": [29600, 29800, 30000, 30200, 30400, 30600, 30800, 31000, 31200, 31400], "labelExpr": "format(datum.value / 1000, '.2f') + 'K'", "title": null, "grid": true, "gridColor": "#f1f3f6", "gridWidth": 1.5, "domain": true, "domainColor": "#eff2f5", "domainWidth": 1.5, "ticks": false, "labels": true, "labelPadding": 18, "labelFontSize": 22, "labelColor": "#808a9d", "labelFont": "Inter", "labelAlign": "left"}}
}
},
{
"data": {"name": "last"},
"mark": {"type": "point", "filled": true, "color": "#ea3943", "size": 230, "opacity": 1},
"encoding": {
"x": {"field": "t", "type": "quantitative", "scale": {"domain": [11.12, 180.67], "nice": false, "zero": false}, "axis": null},
"y": {"field": "p", "type": "quantitative", "scale": {"domain": [29458, 31593], "nice": false, "zero": false}, "axis": null}
}
},
{
"data": {"name": "last"},
"mark": {"type": "tick", "orient": "horizontal", "color": "#ea3943", "size": 112, "thickness": 36, "xOffset": 72, "opacity": 1},
"encoding": {
"x": {"field": "t", "type": "quantitative", "scale": {"domain": [11.12, 180.67], "nice": false, "zero": false}, "axis": null},
"y": {"field": "p", "type": "quantitative", "scale": {"domain": [29458, 31593], "nice": false, "zero": false}, "axis": null}
}
},
{
"data": {"name": "last"},
"mark": {"type": "text", "color": "#ffffff", "fontSize": 22, "font": "Inter", "dx": 72, "align": "center", "baseline": "middle"},
"encoding": {
"x": {"field": "t", "type": "quantitative", "scale": {"domain": [11.12, 180.67], "nice": false, "zero": false}, "axis": null},
"y": {"field": "p", "type": "quantitative", "scale": {"domain": [29458, 31593], "nice": false, "zero": false}, "axis": null},
"text": {"field": "label"}
}
},
{
"data": {"name": "last"},
"mark": {"type": "text", "color": "#cdd4e3", "fontSize": 28.5, "fontWeight": 600, "font": "Inter", "align": "left", "baseline": "middle", "text": "CoinMarketCap"},
"encoding": {
"x": {"datum": 169.51, "type": "quantitative", "scale": {"domain": [11.12, 180.67], "nice": false, "zero": false}, "axis": null},
"y": {"datum": 30063, "type": "quantitative", "scale": {"domain": [29458, 31593], "nice": false, "zero": false}, "axis": null}
}
},
{
"data": {"name": "last"},
"mark": {"type": "point", "shape": "circle", "size": 1764, "strokeWidth": 5, "color": "#cdd4e3", "filled": false, "opacity": 1},
"encoding": {
"x": {"datum": 165.62, "type": "quantitative", "scale": {"domain": [11.12, 180.67], "nice": false, "zero": false}, "axis": null},
"y": {"datum": 30063, "type": "quantitative", "scale": {"domain": [29458, 31593], "nice": false, "zero": false}, "axis": null}
}
},
{
"data": {"name": "last"},
"mark": {"type": "point", "shape": "M-0.6,0.45 L-0.3,-0.3 L-0.05,0.25 L0.2,-0.3 L0.42,0.3 Q0.55,0.5 0.8,0.3", "size": 1764, "strokeWidth": 5, "strokeJoin": "round", "strokeCap": "round", "color": "#cdd4e3", "filled": false, "opacity": 1},
"encoding": {
"x": {"datum": 165.62, "type": "quantitative", "scale": {"domain": [11.12, 180.67], "nice": false, "zero": false}, "axis": null},
"y": {"datum": 30063, "type": "quantitative", "scale": {"domain": [29458, 31593], "nice": false, "zero": false}, "axis": null}
}
}
],
"resolve": {"scale": {"y": "independent"}, "axis": {"x": "independent"}}
}
